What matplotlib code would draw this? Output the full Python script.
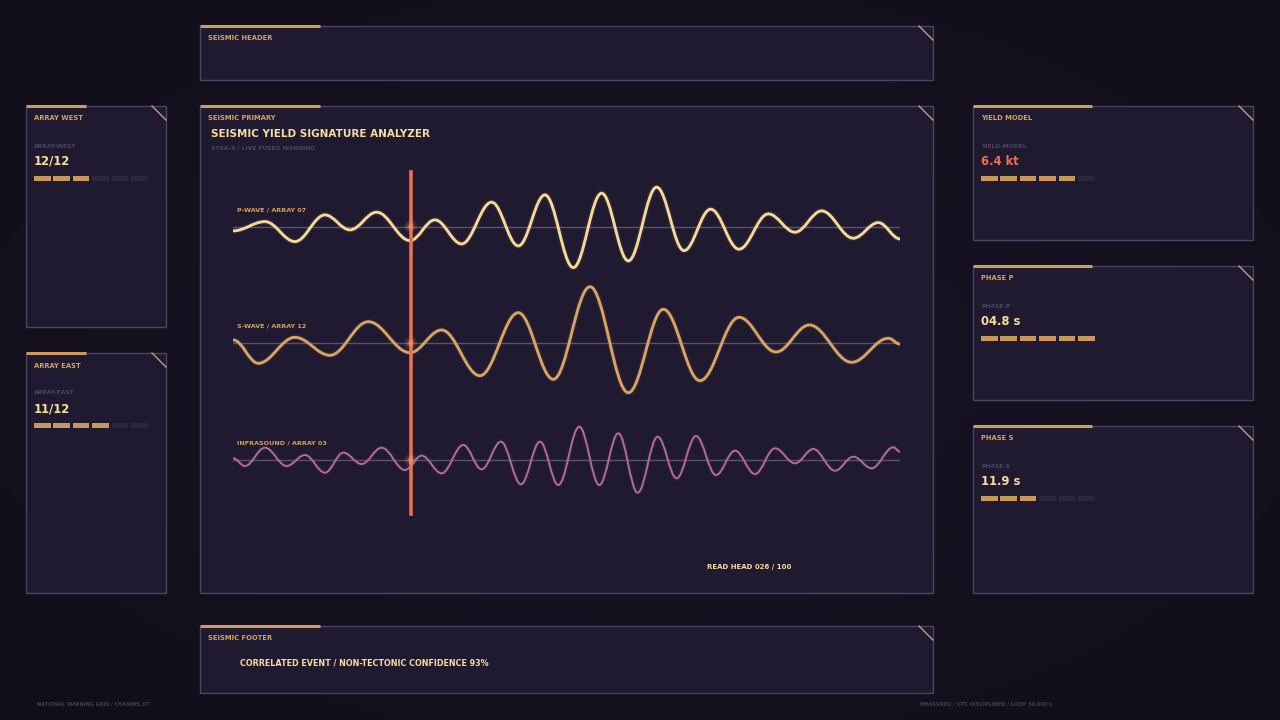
import numpy as np
import matplotlib
matplotlib.use("Agg")
import matplotlib.pyplot as plt
from matplotlib.patches import Rectangle, PathPatch
from matplotlib.path import Path

# ---------------------------------------------------------------
# data (t = 0..100 read-head units, amplitude up)
# ---------------------------------------------------------------
P_T = [0, 4.75, 9.25, 13.75, 17.5, 21.5, 26.5, 30.25, 34.25, 38.75, 42.75,
       46.75, 51, 55.25, 59.25, 63.5, 67.6, 71.6, 75.85, 80.25, 84.25, 88.25,
       93, 96.75, 100]
P_AMP = [-4.3, 5, -15, 11.7, -3.3, 14.4, -14, 6.7, -17.3, 24.4, -19.3,
         31.7, -41, 33.4, -34.3, 39.4, -24, 17.4, -22.6, 12.7, -5.6, 15.7,
         -11.6, 4, -12.3]

S_T = [0, 3.75, 9.25, 14.5, 20.25, 26.5, 31.25, 37, 42.75, 48, 53.5, 59.25,
       64.5, 70, 75.85, 81.4, 86.4, 92.75, 98.25, 100]
S_AMP = [3.3, -20, 6, -12, 21.6, -9.4, 13.3, -32.4, 30.6, -36, 56.6, -49.4,
         34, -37.4, 26, -8.7, 18.3, -19, 5, -0.7]

I_T = [0, 1.75, 4.75, 8, 10.75, 13.75, 16.5, 19.25, 22.25, 25.75, 28.25,
       31.25, 34.5, 37.25, 40.15, 43.15, 46, 48.75, 51.9, 54.9, 57.75, 60.65,
       63.65, 66.5, 69.4, 72.4, 75.25, 78.25, 81.25, 84.25, 87, 90.25, 93,
       95.75, 99, 100]
I_AMP = [1.7, -6, 12.3, -6, 5, -12.7, 7.3, -4, 12.3, -10, 4.3, -13.3, 15,
         -9.3, 18.3, -24.3, 18.3, -25, 33.3, -25, 26.7, -32.7, 23.3, -18.3,
         24, -15, 9.3, -14, 11.7, -3.3, 11, -10.7, 3.3, -8.3, 12.7, 8.3]

WAVE_LABELS = ["P-WAVE / ARRAY 07", "S-WAVE / ARRAY 12", "INFRASOUND / ARRAY 03"]
READ_HEAD = 26.6

SIDE_TITLES = ["ARRAY WEST", "ARRAY EAST", "YIELD MODEL", "PHASE P", "PHASE S"]
SIDE_KEYS = ["ARRAY-WEST", "ARRAY-EAST", "YIELD-MODEL", "PHASE-P", "PHASE-S"]
SIDE_VALUES = ["12/12", "11/12", "6.4 kt", "04.8 s", "11.9 s"]
SIDE_FILLED = [3, 4, 5, 6, 3]
BAR_SLOTS = 6

# ---------------------------------------------------------------
# style
# ---------------------------------------------------------------
BG = "#16111f"
PANEL = "#1f1a2f"
EDGE = "#4c4462"
ACCENT = "#d29a5c"
CREAM = "#f7dca0"
TAN = "#d6a263"
GREY = "#4d4660"
RED = "#e8714f"
WAVE_COLORS = ["#f7d898", "#d8a466", "#b56a9c"]
WAVE_LW = [2.1, 2.1, 1.4]

plt.rcParams["font.family"] = ["DejaVu Sans"]

fig = plt.figure(figsize=(12.8, 7.2), dpi=100)
fig.patch.set_facecolor(BG)
ax = fig.add_axes([0, 0, 1, 1])
ax.set_xlim(0, 1280)
ax.set_ylim(720, 0)
ax.axis("off")

# soft vignette
yy, xx = np.mgrid[0:72, 0:128]
r = np.sqrt(((xx - 64) / 64.0) ** 2 + ((yy - 36) / 36.0) ** 2)
base = np.array([0x1a, 0x15, 0x26]) / 255.0
dark = np.array([0x11, 0x0d, 0x19]) / 255.0
w = np.clip(r / 1.4, 0, 1)[..., None]
ax.imshow(base * (1 - w) + dark * w, extent=(0, 1280, 720, 0), zorder=0,
          interpolation="bicubic", aspect="auto")


def panel(x0, y0, x1, y1, title, accent_len):
    ax.add_patch(Rectangle((x0, y0), x1 - x0, y1 - y0, facecolor=PANEL,
                           edgecolor=EDGE, lw=1.0, zorder=1))
    ax.plot([x0, x0 + accent_len], [y0, y0], color=ACCENT, lw=2.2,
            solid_capstyle="butt", zorder=3)
    ax.plot([x1 - 14, x1], [y0, y0 + 14], color="#c79a86", lw=1.0, zorder=3)
    ax.text(x0 + 8, y0 + 12.5, title, color=TAN, fontsize=4.9, fontweight="bold",
            va="center", ha="left", zorder=4)


panel(200, 26, 933, 80, "SEISMIC HEADER", 120)
panel(200, 106, 933, 593, "SEISMIC PRIMARY", 120)
panel(200, 626, 933, 693, "SEISMIC FOOTER", 120)

side_boxes = [(26, 106, 166, 327, 60), (26, 353, 166, 593, 60),
              (973, 106, 1253, 240, 119), (973, 266, 1253, 400, 119),
              (973, 426, 1253, 593, 119)]
for i, (x0, y0, x1, y1, acc) in enumerate(side_boxes):
    panel(x0, y0, x1, y1, SIDE_TITLES[i], acc)
    ax.text(x0 + 8, y0 + 40, SIDE_KEYS[i], color=GREY, fontsize=4.3,
            fontweight="bold", va="center", zorder=4)
    vcol = RED if SIDE_KEYS[i] == "YIELD-MODEL" else CREAM
    ax.text(x0 + 8, y0 + 55.5, SIDE_VALUES[i], color=vcol, fontsize=8.4,
            fontweight="bold", va="center", zorder=4)
    for k in range(BAR_SLOTS):
        col = "#c9975c" if k < SIDE_FILLED[i] else "#2c2640"
        ax.add_patch(Rectangle((x0 + 8 + k * 19.4, y0 + 69.5), 16.5, 5.5,
                               facecolor=col, edgecolor="none", zorder=4))

ax.text(211, 134, "SEISMIC YIELD SIGNATURE ANALYZER", color=CREAM, fontsize=7.45,
        fontweight="bold", va="center", zorder=4)
ax.text(211, 148, "SYSA-3 / LIVE FUSED WARNING", color=GREY, fontsize=4.3,
        fontweight="bold", va="center", zorder=4)
ax.text(707, 567, "READ HEAD 026 / 100", color=CREAM, fontsize=5.0,
        fontweight="bold", va="center", zorder=4)
ax.text(240, 663, "CORRELATED EVENT / NON-TECTONIC CONFIDENCE 93%", color=CREAM,
        fontsize=5.75, fontweight="bold", va="center", zorder=4)
ax.text(37, 704, "NATIONAL WARNING GRID / CHANNEL 07", color="#453e58",
        fontsize=3.55, fontweight="bold", va="center", zorder=4)
ax.text(920, 704, "MEASURED / UTC DISCIPLINED / LOOP 30.000 s", color="#453e58",
        fontsize=3.65, fontweight="bold", va="center", zorder=4)

# ---------------------------------------------------------------
# waveform axes (x: read-head units, y: amplitude with row offsets)
# ---------------------------------------------------------------
wx0, wx1, wy0, wy1 = 233.3, 900.0, 170.0, 520.0
wax = fig.add_axes([wx0 / 1280, 1 - wy1 / 720, (wx1 - wx0) / 1280,
                    (wy1 - wy0) / 720])
wax.set_xlim(0, 100)
wax.set_ylim(-(wy1 - 343.3), 343.3 - wy0)
wax.axis("off")
wax.patch.set_alpha(0)

offsets = [116.7, 0.0, -116.7]
waves = [(P_T, P_AMP), (S_T, S_AMP), (I_T, I_AMP)]


def smooth_path(ts, vs, off):
    verts = [(ts[0], vs[0] + off)]
    codes = [Path.MOVETO]
    for i in range(len(ts) - 1):
        dt = ts[i + 1] - ts[i]
        verts += [(ts[i] + 0.364 * dt, vs[i] + off),
                  (ts[i + 1] - 0.364 * dt, vs[i + 1] + off),
                  (ts[i + 1], vs[i + 1] + off)]
        codes += [Path.CURVE4] * 3
    return Path(verts, codes)


for j, (ts, vs) in enumerate(waves):
    off = offsets[j]
    wax.plot([0, 100], [off, off], color="#5a5170", lw=1.0, zorder=2)
    pth = smooth_path(ts, vs, off)
    wax.add_patch(PathPatch(pth, fill=False, edgecolor=WAVE_COLORS[j],
                            lw=WAVE_LW[j] + 2.5, alpha=0.05, zorder=3))
    wax.add_patch(PathPatch(pth, fill=False, edgecolor=WAVE_COLORS[j],
                            lw=WAVE_LW[j], zorder=4, capstyle="round"))
    wax.text(0.6, off + 17, WAVE_LABELS[j], color=TAN, fontsize=4.6,
             fontweight="bold", va="center", zorder=5)

wax.axvline(READ_HEAD, ymin=6 / 350, ymax=348 / 350, color=RED, lw=2.6, zorder=6)
for off in offsets:
    for s, a in [(90, 0.10), (40, 0.2), (12, 0.5)]:
        wax.scatter([READ_HEAD], [off], s=s, color="#ff9a6a", alpha=a,
                    edgecolors="none", zorder=7)

fig.savefig("out.png", dpi=100, facecolor=BG)
